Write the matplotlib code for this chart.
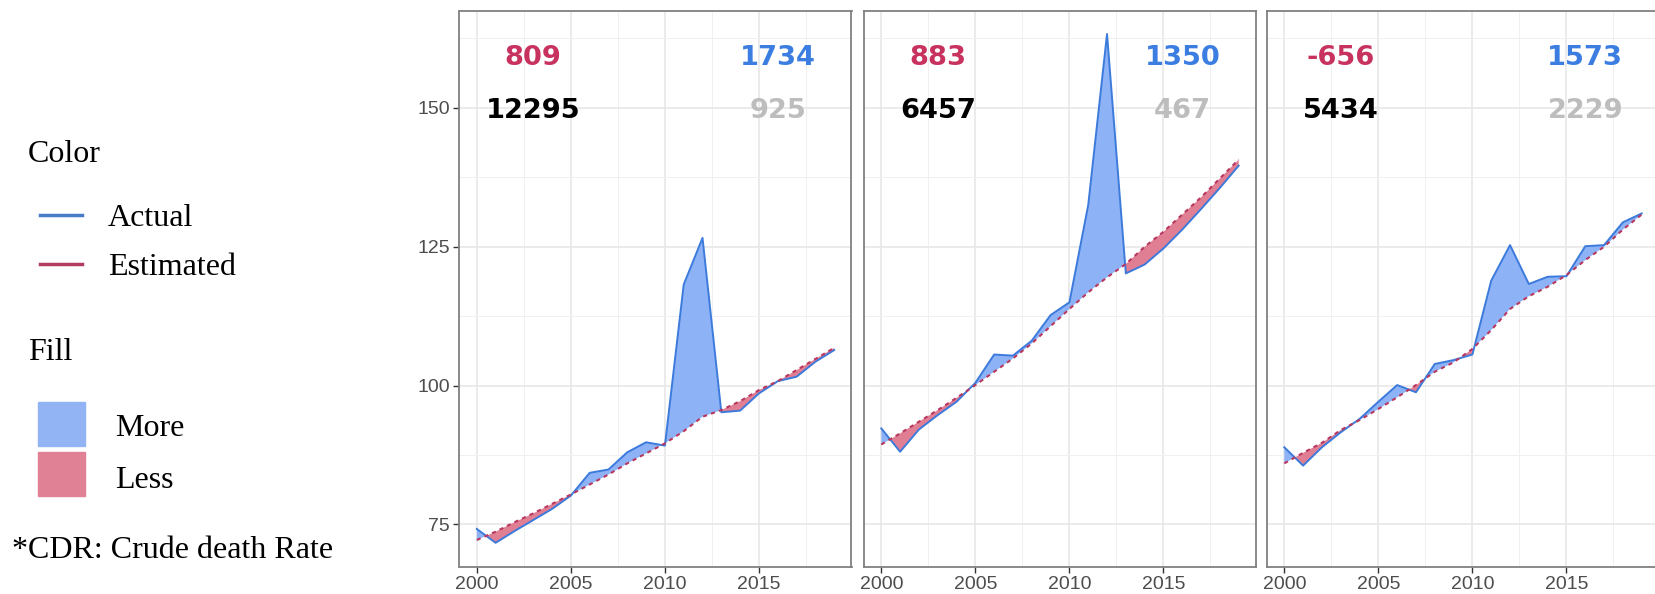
import numpy as np
import matplotlib
matplotlib.use("Agg")
import matplotlib.pyplot as plt
from matplotlib.lines import Line2D
from matplotlib.patches import Rectangle

years = np.arange(2000, 2020)

# crude death rate, actual vs estimated, one pair per panel
actual = [
    [74.2, 71.7, 73.8, 75.8, 77.8, 80.2, 84.3, 84.9, 88.0, 89.8,
     89.2, 118.2, 126.6, 95.2, 95.5, 98.6, 100.8, 101.6, 104.3, 106.4],
    [92.3, 88.1, 92.1, 94.7, 97.1, 100.5, 105.6, 105.4, 108.1, 112.7,
     115.0, 132.5, 163.3, 120.2, 121.8, 124.7, 128.1, 131.8, 135.6, 139.6],
    [88.9, 85.6, 88.9, 91.6, 94.0, 97.1, 100.1, 98.8, 103.9, 104.6,
     105.6, 118.9, 125.3, 118.3, 119.6, 119.7, 125.1, 125.3, 129.4, 131.0],
]
estimated = [
    [72.2, 73.7, 75.4, 77.0, 78.7, 80.4, 82.2, 84.0, 86.0, 87.8,
     89.6, 91.8, 94.4, 95.6, 97.2, 99.2, 100.8, 102.8, 104.8, 106.8],
    [89.4, 91.4, 93.5, 95.6, 97.8, 100.1, 102.5, 104.9, 107.6, 110.7,
     113.8, 116.8, 119.5, 121.9, 125.0, 127.7, 130.8, 133.9, 137.3, 140.7],
    [86.0, 87.9, 89.7, 92.0, 93.8, 95.8, 97.9, 100.1, 102.5, 104.2,
     106.6, 110.0, 113.8, 116.1, 117.8, 119.9, 122.6, 125.0, 128.1, 130.8],
]
less_vals = ["809", "883", "-656"]
total_vals = ["12295", "6457", "5434"]
more_vals = ["1734", "1350", "1573"]
grey_vals = ["925", "467", "2229"]

C_ACT = "#3C7BDB"
C_EST = "#B8385F"
F_MORE = "#8DB2F6"
F_LESS = "#E07E94"
T_RED = "#C8325F"
T_BLUE = "#3B7DE0"
T_GREY = "#BDBDBD"

W, H = 1656, 594
fig = plt.figure(figsize=(W / 100, H / 100), dpi=100)

def px(x0, y0, w, h):
    return [x0 / W, 1 - (y0 + h) / H, w / W, h / H]

lefts = [459.5, 864, 1267]
for i, x0 in enumerate(lefts):
    ax = fig.add_axes(px(x0, 10.7, 392, 556))
    a = np.array(actual[i])
    e = np.array(estimated[i])
    ax.fill_between(years, a, e, where=a >= e, interpolate=True,
                    color=F_MORE, lw=0, zorder=2)
    ax.fill_between(years, a, e, where=a < e, interpolate=True,
                    color=F_LESS, lw=0, zorder=2)
    ax.plot(years, a, color=C_ACT, lw=1.4, zorder=3)
    ax.plot(years, e, color=C_EST, lw=1.5, ls=(0, (2, 2)), zorder=4)

    num = dict(fontsize=19.6, fontweight="bold", ha="center", va="center",
               family="DejaVu Sans")
    ax.text(2003, 159, less_vals[i], color=T_RED, **num)
    ax.text(2003, 149.4, total_vals[i], color="black", **num)
    ax.text(2016, 159, more_vals[i], color=T_BLUE, **num)
    ax.text(2016, 149.4, grey_vals[i], color=T_GREY, **num)

    ax.set_xlim(1999.08, 2019.92)
    ax.set_ylim(67.4, 167.5)
    ax.set_xticks([2000, 2005, 2010, 2015])
    ax.set_xticks([2002.5, 2007.5, 2012.5, 2017.5], minor=True)
    ax.set_yticks([75, 100, 125, 150])
    ax.set_yticks([87.5, 112.5, 137.5, 162.5], minor=True)
    ax.grid(which="major", color="#E6E6E6", lw=1.1, zorder=0)
    ax.grid(which="minor", color="#F0F0F0", lw=0.7, zorder=0)
    ax.set_axisbelow(True)
    for s in ax.spines.values():
        s.set_color("#808080")
        s.set_linewidth(1.3)
    ax.tick_params(which="major", length=4, color="#333333", width=1.0,
                   labelsize=14, labelcolor="#4D4D4D", pad=3)
    ax.tick_params(which="minor", length=0)
    for lab in ax.get_xticklabels() + ax.get_yticklabels():
        lab.set_family("Liberation Sans")
    if i > 0:
        ax.tick_params(axis="y", left=False, labelleft=False)

# legend block on the left
serif = dict(family="Liberation Serif", fontsize=23, va="center", color="black")

def fx(x):
    return x / W

def fy(y):
    return 1 - y / H

fig.text(fx(28), fy(155), "Color", **serif)
fig.add_artist(Line2D([fx(40), fx(82)], [fy(215), fy(215)], color="#4A7BC8", lw=2.5))
fig.text(fx(108), fy(218), "Actual", **serif)
fig.add_artist(Line2D([fx(40), fx(82)], [fy(264), fy(264)], color="#B33D61", lw=2.5))
fig.text(fx(108), fy(268), "Estimated", **serif)
fig.text(fx(28), fy(352), "Fill", **serif)
fig.add_artist(Rectangle((fx(38), fy(446)), fx(46.5), 44 / H, color="#93B4F4",
                         transform=fig.transFigure))
fig.add_artist(Rectangle((fx(38), fy(496)), fx(46.5), 44 / H, color="#E18196",
                         transform=fig.transFigure))
fig.text(fx(115), fy(429), "More", **serif)
fig.text(fx(115), fy(480), "Less", **serif)
fig.text(fx(11.7), fy(551), "*CDR: Crude death Rate", **serif)

fig.savefig("out.png", dpi=100)
